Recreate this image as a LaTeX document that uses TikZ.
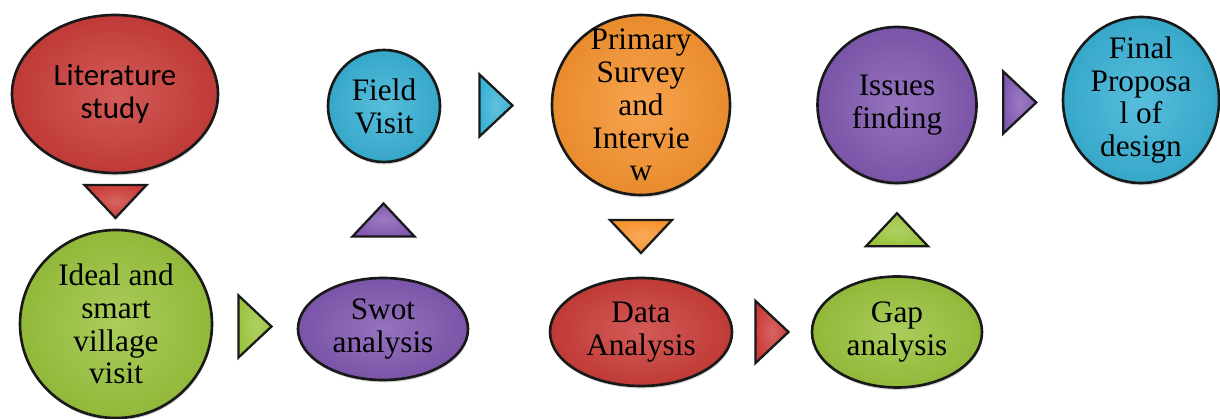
\documentclass[tikz,border=0pt]{standalone}
\usepackage{fontspec}
\setmainfont{Liberation Serif}
\newfontfamily\calibri{Carlito}
\usetikzlibrary{shapes.geometric,shadows,calc}

\definecolor{stepred}{RGB}{203,62,58}
\definecolor{stepblue}{RGB}{58,178,214}
\definecolor{steporange}{RGB}{247,148,48}
\definecolor{steppurple}{RGB}{130,90,178}
\definecolor{stepgreen}{RGB}{155,196,62}

\tikzset{
  blob/.style={ellipse, draw=black!90, line width=1.5pt, inner sep=0pt,
    inner color=#1!85!white, outer color=#1!94!black,
    drop shadow={opacity=.3, shadow xshift=.4pt, shadow yshift=-1.4pt}},
  txt/.style={align=center, inner sep=0pt, text=black,
    font=\fontsize{17.8}{18.7}\selectfont},
  cal/.style={txt, font=\calibri\fontsize{17.6}{18.7}\selectfont},
  tri/.style={draw=black!90, line width=1.3pt, line join=miter,
    inner color=#1!80!white, outer color=#1}
}

\begin{document}
\begin{tikzpicture}
\useasboundingbox (0,0) rectangle (24.4,8.38);

% top and bottom rows of steps
\node[blob=stepred, minimum width=4.12cm, minimum height=3.16cm] (lit) at (2.30,6.50) {};
\node[blob=stepgreen, minimum width=3.84cm, minimum height=3.76cm] (ideal) at (2.32,1.90) {};
\node[blob=steppurple, minimum width=3.40cm, minimum height=2.04cm] (swot) at (7.66,1.80) {};
\node[blob=stepblue, minimum width=2.24cm, minimum height=2.24cm] (field) at (7.68,6.26) {};
\node[blob=steporange, minimum width=3.56cm, minimum height=3.60cm] (primary) at (12.82,6.28) {};
\node[blob=stepred, minimum width=3.64cm, minimum height=2.16cm] (data) at (12.82,1.74) {};
\node[blob=stepgreen, minimum width=3.40cm, minimum height=2.22cm] (gap) at (17.94,1.74) {};
\node[blob=steppurple, minimum width=3.18cm, minimum height=3.12cm] (issues) at (17.94,6.28) {};
\node[blob=stepblue, minimum width=3.12cm, minimum height=3.32cm] (final) at (22.82,6.38) {};

\node[cal] (lit text) at (lit) {Literature\\study};
\node[txt] (ideal text) at (ideal) {Ideal and\\smart\\village\\visit};
\node[txt] (swot text) at (swot) {Swot\\analysis};
\node[txt] (field text) at (field) {Field\\Visit};
\node[txt] (primary text) at (primary) {Primary\\Survey\\and\\Intervie\\w};
\node[txt] (data text) at (data) {Data\\Analysis};
\node[txt] (gap text) at (gap) {Gap\\analysis};
\node[txt] (issues text) at (issues) {Issues\\finding};
\node[txt] (final text) at (final) {Final\\Proposa\\l of\\design};

% triangle arrows half way between neighbouring steps
\foreach \a/\b/\ang/\c in {lit.south/ideal.north/-90/stepred,
    ideal.east/swot.west/0/stepgreen,
    swot.north/field.south/90/steppurple,
    field.east/primary.west/0/stepblue,
    primary.south/data.north/-90/steporange,
    data.east/gap.west/0/stepred,
    gap.north/issues.south/90/stepgreen,
    issues.east/final.west/0/steppurple}
  \draw[tri=\c, shift={($(\a)!.5!(\b)$)}, rotate=\ang]
    (-.33,-.62) -- (.33,0) -- (-.33,.62) -- cycle;
\end{tikzpicture}
\end{document}
